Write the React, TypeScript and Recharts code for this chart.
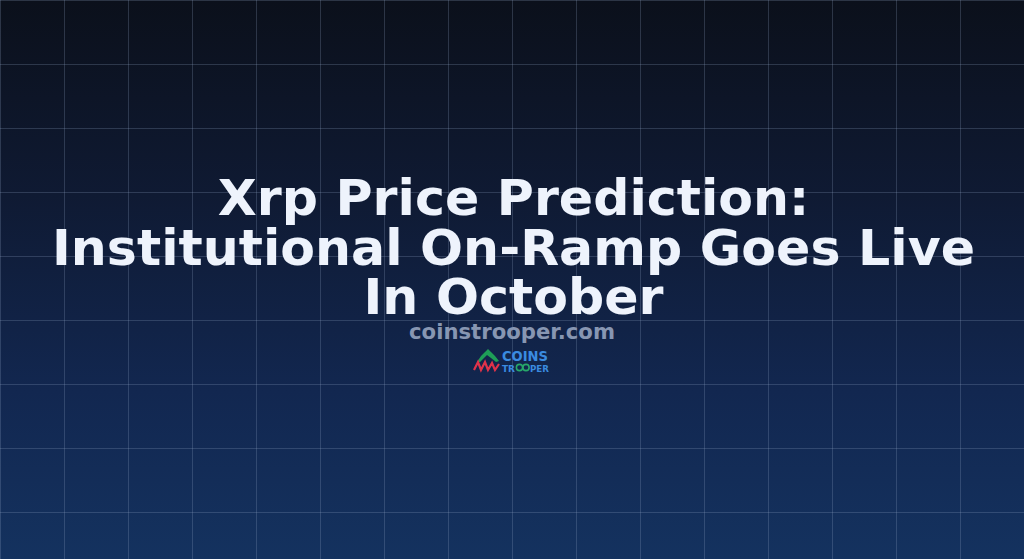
import React from "react";
import { ComposedChart, XAxis, YAxis, ReferenceLine, Scatter } from "recharts";

const gridX = [0, 64, 128, 192, 256, 320, 384, 448, 512, 576, 640, 704, 768, 832, 896, 960];
const gridY = [0, 64, 128, 192, 256, 320, 384, 448, 512];
const titleLines = ["Xrp Price Prediction:", "Institutional On-Ramp Goes Live", "In October"];
const siteName = "coinstrooper.com";
const anchorPoints = [{ x: 0, y: 0 }];

const W = 1024;
const H = 559;

export default function App() {
  return (
    <div
      style={{
        position: "absolute",
        left: 0,
        top: 0,
        width: W,
        height: H,
        overflow: "hidden",
        background: "linear-gradient(180deg, #0b101b 0%, #0f1a33 35%, #122750 70%, #14325f 100%)",
      }}
    >
      <ComposedChart width={W} height={H} margin={{ top: 0, right: 0, bottom: 0, left: 0 }} data={anchorPoints}>
        <XAxis type="number" dataKey="x" domain={[0, W]} hide allowDataOverflow />
        <YAxis type="number" dataKey="y" domain={[0, H]} reversed hide allowDataOverflow />
        {gridX.map((x) => (
          <ReferenceLine key={"vx" + x} x={x + 0.5} stroke="#8fa3c4" strokeOpacity={0.25} strokeWidth={1} ifOverflow="visible" />
        ))}
        {gridY.map((y) => (
          <ReferenceLine key={"hy" + y} y={y + 0.5} stroke="#8fa3c4" strokeOpacity={0.25} strokeWidth={1} ifOverflow="visible" />
        ))}
        <Scatter data={anchorPoints} dataKey="y" fill="none" isAnimationActive={false} />
      </ComposedChart>
      <svg width={W} height={H} style={{ position: "absolute", left: 0, top: 0 }}>
        <g fontFamily="DejaVu Sans" fontWeight="bold" textAnchor="middle">
          {titleLines.map((t, i) => (
            <text key={i} x={513.5} y={215 + i * 49.5} fontSize={50.6} fill="#eef3fc">
              {t}
            </text>
          ))}
          <text x={512} y={339} fontSize={21.2} fill="#8796b2">
            {siteName}
          </text>
        </g>
        <g>
          <polygon points="477,362 481,356 485,352 488,349 491,352 495,356 499,361 496,362 491,358 487,355 483,359 480,362" fill="#1e9e57" />
          <polyline points="474,370 478,362 481,370 485,362 488,370 492,363 495,370 499,364" fill="none" stroke="#e0334a" strokeWidth={2.2} />
          <text x={502} y={361} fontFamily="DejaVu Sans" fontWeight="bold" fontSize={13.5} textLength={46} lengthAdjust="spacingAndGlyphs" fill="#3a8be0">COINS</text>
          <text x={502} y={371.5} fontFamily="DejaVu Sans" fontWeight="bold" fontSize={9.5} textLength={13} lengthAdjust="spacingAndGlyphs" fill="#3a8be0">TR</text>
          <circle cx={519.5} cy={367.5} r={3.1} fill="none" stroke="#27a86a" strokeWidth={1.6} />
          <circle cx={526} cy={367.5} r={3.1} fill="none" stroke="#27a86a" strokeWidth={1.6} />
          <text x={530} y={371.5} fontFamily="DejaVu Sans" fontWeight="bold" fontSize={9.5} textLength={19} lengthAdjust="spacingAndGlyphs" fill="#3a8be0">PER</text>
        </g>
      </svg>
    </div>
  );
}
